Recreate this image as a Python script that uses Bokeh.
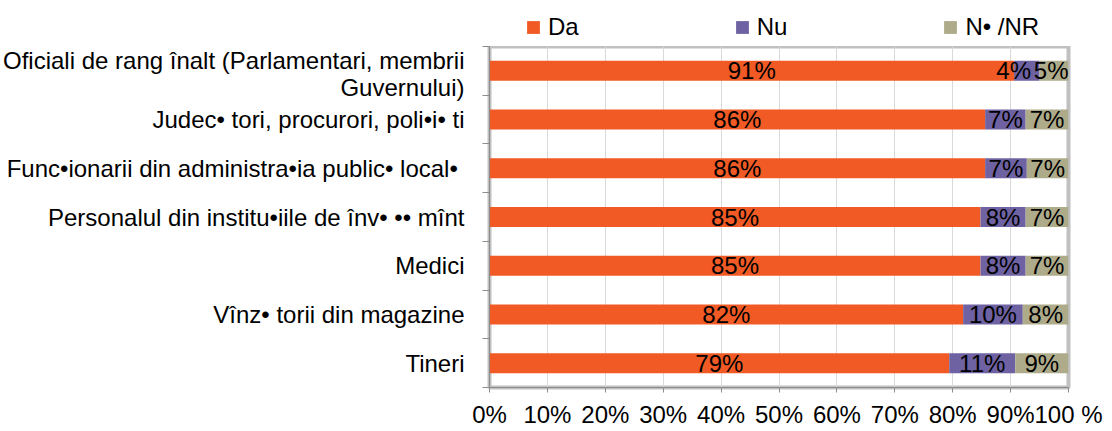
from bokeh.plotting import figure
from bokeh.layouts import column
from bokeh.models import Range1d, FixedTicker, ColumnDataSource, Legend, LegendItem
from bokeh.core.properties import value
from bokeh.embed import file_html
from bokeh.resources import INLINE

categories = [
    "Oficiali de rang înalt (Parlamentari, membrii\nGuvernului)",
    "Judec• tori, procurori, poli•i• ti",
    "Func•ionarii din administra•ia public•  local•",
    "Personalul din institu•iile de înv• •• mînt",
    "Medici",
    "Vînz• torii din magazine",
    "Tineri",
]
series_names = ["Da", "Nu", "N• /NR"]
da = [90.6, 85.6, 85.6, 84.8, 84.8, 81.8, 79.4]
nu = [4.4, 7.0, 7.2, 7.8, 7.8, 10.3, 11.4]
ns = [5.0, 7.4, 7.2, 7.4, 7.4, 7.9, 9.2]
x_ticks = [0, 10, 20, 30, 40, 50, 60, 70, 80, 90, 100]
x_tick_labels = ["0%", "10%", "20%", "30%", "40%", "50%", "60%", "70%", "80%", "90%", "100 %"]

colors = ["#f15a24", "#6e62a2", "#aeab8a"]
FONT = "Liberation Sans"
W = 1108

n = len(categories)
ypos = [n - 0.5 - i for i in range(n)]

src = ColumnDataSource(dict(y=ypos, da=da, nu=nu, ns=ns))

p = figure(width=W, height=384, x_range=Range1d(0, 100), y_range=Range1d(0, n),
           output_backend="svg", toolbar_location=None,
           min_border_left=488, min_border_right=40, min_border_top=0, min_border_bottom=41)

rs = p.hbar_stack(["da", "nu", "ns"], y="y", height=0.41, fill_color=colors, line_color=None, source=src)

# data labels
PX_PER_UNIT = 5.8
FS = 24
def text_w(s):
    w = 0
    for ch in s:
        w += 0.889 if ch == "%" else 0.556
    return w * FS / PX_PER_UNIT

lx, ly, lt = [], [], []
for i in range(n):
    vals = [da[i], nu[i], ns[i]]
    starts = [0, da[i], da[i] + nu[i]]
    labels = [f"{round(v)}%" for v in vals]
    centers = [starts[k] + vals[k] / 2 for k in range(3)]
    gap = 0.5
    right_lim = 100
    for k in (2, 1, 0):
        hw = text_w(labels[k]) / 2
        c = min(centers[k], right_lim - hw)
        centers[k] = c
        right_lim = c - hw - gap
    for k in range(3):
        lx.append(centers[k]); ly.append(ypos[i]); lt.append(labels[k])

p.text(x=lx, y=ly, text=lt, text_align="center", text_baseline="middle",
       text_font=value(FONT), text_font_size=f"{FS}px", text_color="black")

# axes
p.xaxis.ticker = FixedTicker(ticks=x_ticks)
p.xaxis.major_label_overrides = {t: l for t, l in zip(x_ticks, x_tick_labels)}
p.xaxis.major_label_text_font = FONT
p.xaxis.major_label_text_font_size = "24px"
p.xaxis.major_label_text_color = "black"
p.xaxis.major_tick_out = 5
p.xaxis.major_tick_in = 0
p.xaxis.minor_tick_out = 0
p.xaxis.minor_tick_in = 0
p.xaxis.major_label_standoff = 8
p.xaxis.axis_line_color = "#8c8c8c"
p.xaxis.major_tick_line_color = "#8c8c8c"

p.yaxis.ticker = FixedTicker(ticks=ypos, minor_ticks=list(range(n + 1)))
p.yaxis.major_label_overrides = {y: c for y, c in zip(ypos, categories)}
p.yaxis.major_label_text_font = FONT
p.yaxis.major_label_text_font_size = "24px"
p.yaxis.major_label_text_line_height = 1.0
p.yaxis.major_label_text_color = "black"
p.yaxis.major_tick_out = 0
p.yaxis.major_tick_in = 0
p.yaxis.minor_tick_out = 7
p.yaxis.minor_tick_in = 0
p.yaxis.major_label_standoff = 18
p.yaxis.axis_line_color = "#8c8c8c"
p.yaxis.minor_tick_line_color = "#8c8c8c"

p.xgrid.ticker = FixedTicker(ticks=x_ticks)
p.xgrid.grid_line_color = "#d9d9d9"
p.ygrid.grid_line_color = None

p.outline_line_color = "#c0c0c0"
p.outline_line_width = 4
p.outline_line_alpha = 1.0
p.background_fill_color = "white"
p.border_fill_color = "white"

# legend strip above the chart (its frame is aligned with the chart's frame)
lf = figure(width=W, height=46, x_range=Range1d(0, 1), y_range=Range1d(0, 1),
            output_backend="svg", toolbar_location=None, min_border=0)
lf.axis.visible = False
lf.grid.grid_line_color = None
lf.outline_line_color = None
lf.border_fill_color = "white"
# legend proxies: one bar each, placed outside the visible range of the strip
proxies = [lf.hbar(y=[-5], left=[0], right=[1], height=0.5, fill_color=colors[k], line_color=None)
           for k in range(3)]
legend = Legend(items=[LegendItem(label=series_names[k], renderers=[proxies[k]]) for k in range(3)],
                orientation="horizontal", location=(36, 5),
                glyph_width=16, glyph_height=16, label_standoff=7,
                spacing=155, padding=0, margin=0, border_line_color=None,
                background_fill_alpha=0, label_text_font=FONT, label_text_font_size="24px",
                label_text_color="black")
lf.add_layout(legend)

layout = column(lf, p, spacing=0)
open("out.html", "w").write(file_html(layout, INLINE))
